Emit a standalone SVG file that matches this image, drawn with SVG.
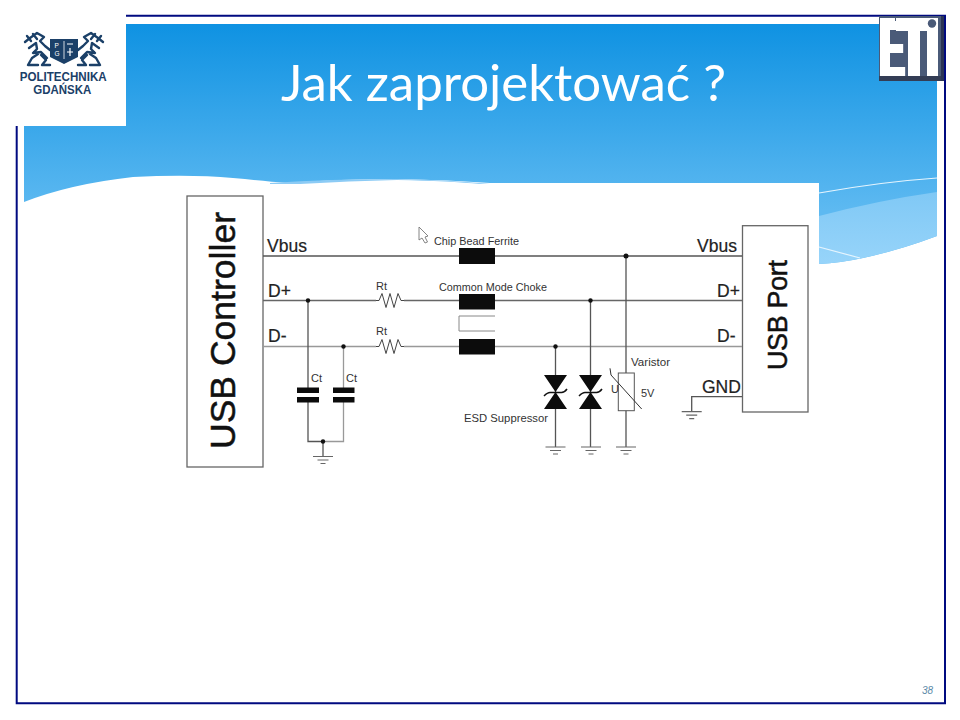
<svg xmlns="http://www.w3.org/2000/svg" width="960" height="720" viewBox="0 0 960 720">
<style>
text{font-family:"Liberation Sans",Arial,sans-serif;fill:#222}
.w{fill:none;stroke:#555;stroke-width:1.3}
.g{fill:none;stroke:#666;stroke-width:1.2}
.d{fill:#111}
.k{fill:#0c0c0c}
.lb{font-size:17.500px;stroke:#222;stroke-width:.2}
.big{fill:#111;stroke:#111;stroke-width:.5}
.sm{font-size:11px;fill:#333}
.md{font-size:11px;fill:#333}
.nv{fill:#1b4068}
.ln{fill:none;stroke:#1b4068;stroke-width:2.400;stroke-linejoin:round;stroke-linecap:round}
.pg{font-weight:700;fill:#1b4068}
.wh{fill:#fff}
</style>
<defs>
<linearGradient id="sky" x1="0" y1="24" x2="0" y2="210" gradientUnits="userSpaceOnUse">
<stop offset="0" stop-color="#0f92e2"/><stop offset="1" stop-color="#5db9f1"/>
</linearGradient>
<linearGradient id="pale" x1="0" y1="190" x2="0" y2="264" gradientUnits="userSpaceOnUse">
<stop offset="0" stop-color="#7fc8f5"/><stop offset="1" stop-color="#97d4fa"/>
</linearGradient>
<g id="gnd" class="g"><path d="M-10 0H10M-5.500 3.500H5.500M-2.500 7H2.500"/></g>
<path id="tvs" d="M-11.500 0H11.500L0 17L11.500 34H-11.500L0 17Z" class="k"/>
<path id="zb" d="M-11.500 21Q-8 17.500 -5.500 17.500H6Q9 17.500 11.500 14" fill="none" stroke="#111" stroke-width="1.500"/>
<path id="rz" d="M0 0H3L6 -7L10 7L14 -7L18 7L22 -7L25 0H28" fill="none" stroke="#444" stroke-width="1"/>
</defs>

<g id="background">
<path d="M24 24H937V236Q900 250 863 258Q840 263 819 264H24Z" fill="url(#sky)"/>
<path d="M819 216Q880 200 937 192V236Q900 250 863 258Q840 263 819 264Z" fill="url(#pale)"/>
<path d="M819 193Q880 182 937 178" fill="none" stroke="#e6f5fe" stroke-width="1.200"/>
<path d="M819 247L860 258" fill="none" stroke="#e6f5fe" stroke-width="1.200"/>
<path d="M24 202Q70 184 133 177Q190 174 233 178Q265 181 287 183Q340 179 397 179Q450 180 490 183H819V270H24Z" fill="#fff"/>
<path d="M270 183Q330 179 397 179Q450 180 490 184H270Z" fill="#8ccbf5"/>
<path d="M300 184Q350 181 397 180Q450 181 480 184Z" fill="#fff"/>
</g>

<g id="frame" fill="none" stroke="#000a80" stroke-width="2">
<path d="M126 15.700H945V703.300H16.700V126"/>
</g>

<g id="title">
<text x="281" y="101" font-size="50" textLength="445" lengthAdjust="spacingAndGlyphs" style="font-family:Lato,'Open Sans',sans-serif;font-weight:400;fill:#fff">Jak zaprojektować ?</text>
</g>

<g id="logo-pg">
<rect x="16" y="0" width="110" height="126" fill="#fff"/>
<path class="nv" d="M50 39H78V57L64 64L50 57Z"/>
<path d="M64 41V59" stroke="#fff" stroke-width="0.800"/>
<text x="54.500" y="47.500" font-size="6.500" class="wh">P</text>
<text x="54.500" y="56" font-size="6.500" class="wh">G</text>
<path d="M67 44H73M70 48V56M67 52H73" stroke="#fff" stroke-width="1.200" fill="none"/>
<path class="ln" d="M25 42L30 38L37 33L44 37L40 41L45 46L50 50M29 48L36 43L37 49L33 53L41 52L47 58M38 54L32 58L28 65H38M41 55L46 60L42 65H50M27 36L31 41M33 34L37 39"/>
<path class="ln" d="M103 42L98 38L91 33L84 37L88 41L83 46L78 50M99 48L92 43L91 49L95 53L87 52L81 58M90 54L96 58L100 65H90M87 55L82 60L86 65H78M101 36L97 41M95 34L91 39"/>
<text x="19.700" y="80.800" font-size="12" textLength="87" lengthAdjust="spacingAndGlyphs" class="pg">POLITECHNIKA</text>
<text x="33.300" y="94.300" font-size="12" textLength="58" lengthAdjust="spacingAndGlyphs" class="pg">GDAŃSKA</text>
</g>

<g id="logo-eti">
<rect x="879" y="16" width="65" height="65" fill="#4a5a78"/>
<rect x="879" y="76" width="65" height="5" fill="#333d55"/>
<rect x="941" y="16" width="3" height="65" fill="#2b3454"/>
<path class="wh" d="M880 18H895V30H890V68H905V76H880ZM896 18H938V31H920V76H908V31H896Z"/>
<rect class="wh" x="927" y="31" width="11" height="45"/>
<text transform="translate(0 76) scale(0.5 1)" x="1760 1802 1858" y="0" font-size="80" style="font-weight:700;fill:#fff">ETi</text>
<circle cx="932" cy="23.500" r="4.200" fill="#4a5a78"/>
<rect x="920" y="31" width="7" height="45" fill="#4a5a78"/>
</g>

<g id="usb-controller">
<rect x="187" y="196" width="76" height="271" fill="#fff" stroke="#666" stroke-width="1.300"/>
<text class="big" transform="translate(235 449) rotate(-90)" font-size="35.500" textLength="237">USB Controller</text>
</g>

<g id="usb-port">
<rect x="742.500" y="225.700" width="65.500" height="186.300" fill="#fff" stroke="#666" stroke-width="1.300"/>
<text class="big" transform="translate(787 370) rotate(-90)" font-size="27" textLength="110">USB Port</text>
</g>

<g id="connectors">
<path class="w" d="M263 256H742"/>
<path class="w" style="stroke:#666" d="M263 300.500H376M404 300.500H742"/>
<path class="w" style="stroke:#999" d="M263 346.500H376M404 346.500H742"/>
<path class="w" d="M308 300.500V441.500H323"/>
<path class="w" style="stroke:#999" d="M343.500 346.500V441.500H323"/>
<path class="w" d="M323 441.500V456.500"/>
<path class="w" d="M555.500 346.500V447M590.500 300.500V447M626 256V447"/>
<path class="w" d="M742 396.700H691.700V411.700"/>
</g>

<g id="junctions">
<circle class="d" cx="308" cy="300.500" r="2.200"/>
<circle class="d" cx="343.500" cy="346.500" r="2.200"/>
<circle class="d" cx="323" cy="441.500" r="2.200"/>
<circle class="d" cx="555.500" cy="346.500" r="2.200"/>
<circle class="d" cx="590.500" cy="300.500" r="2.200"/>
<circle class="d" cx="626" cy="256" r="2.500"/>
</g>

<g id="line-labels">
<text class="lb" x="267" y="252">Vbus</text>
<text class="lb" x="268" y="297">D+</text>
<text class="lb" x="268" y="342">D-</text>
<text class="lb" x="697" y="252">Vbus</text>
<text class="lb" x="717" y="297">D+</text>
<text class="lb" x="717" y="342">D-</text>
<text class="lb" x="702" y="393">GND</text>
</g>

<g id="cursor"><path d="M419 227V240L422 238L425 243L427.500 242L425 237L428 236Z" fill="#fff" stroke="#777" stroke-width="0.900"/></g>

<g id="ferrite">
<rect class="k" x="459" y="248" width="36" height="16"/>
<text class="md" x="434" y="245" textLength="85" lengthAdjust="spacingAndGlyphs">Chip Bead Ferrite</text>
</g>

<g id="choke">
<rect class="k" x="459" y="294" width="36" height="15.500"/>
<rect class="k" x="459" y="339" width="36" height="15.500"/>
<path d="M495 316H459V331H495" fill="none" stroke="#888" stroke-width="1"/>
<text class="md" x="439" y="291" textLength="108" lengthAdjust="spacingAndGlyphs">Common Mode Choke</text>
</g>

<g id="rt1"><use href="#rz" x="376" y="300.500"/><text class="sm" x="376" y="290">Rt</text></g>
<g id="rt2"><use href="#rz" x="376" y="346.500"/><text class="sm" x="376" y="335">Rt</text></g>

<g id="ct1">
<rect class="k" x="297" y="387.500" width="22" height="5.500"/>
<rect class="k" x="297" y="397" width="22" height="5.500"/>
<rect x="304" y="393" width="8" height="4" fill="#fff"/>
<text class="sm" x="311" y="381.500">Ct</text>
</g>
<g id="ct2">
<rect class="k" x="333" y="387.500" width="21.500" height="5.500"/>
<rect class="k" x="333" y="397" width="21.500" height="5.500"/>
<rect x="340" y="393" width="8" height="4" fill="#fff"/>
<text class="sm" x="346" y="381.500">Ct</text>
</g>
<g id="ground-ct"><use href="#gnd" x="323" y="456.500"/></g>

<g id="esd1"><use href="#tvs" x="555.500" y="375"/><use href="#zb" x="555.500" y="375"/><use href="#gnd" x="555.500" y="447"/></g>
<g id="esd2"><use href="#tvs" x="590.500" y="375"/><use href="#zb" x="590.500" y="375"/><use href="#gnd" x="591" y="447"/></g>
<text class="md" x="464" y="422" textLength="84" lengthAdjust="spacingAndGlyphs">ESD Suppressor</text>

<g id="varistor">
<rect x="618.300" y="373" width="16" height="37.700" fill="#fff" stroke="#555" stroke-width="1"/>
<path d="M610 368.300L611 375L641.700 409" fill="none" stroke="#333" stroke-width="1"/>
<use href="#gnd" x="626" y="447"/>
<text class="sm" x="631" y="366" textLength="39" lengthAdjust="spacingAndGlyphs">Varistor</text>
<text class="sm" x="611" y="393">U</text>
<text class="sm" x="641" y="396.700">5V</text>
</g>
<g id="ground-gnd"><use href="#gnd" x="691.700" y="411.700"/></g>

<g id="page-number"><text x="922" y="694" font-size="10" font-style="italic" style="fill:#5b8aa8">38</text></g>
</svg>
